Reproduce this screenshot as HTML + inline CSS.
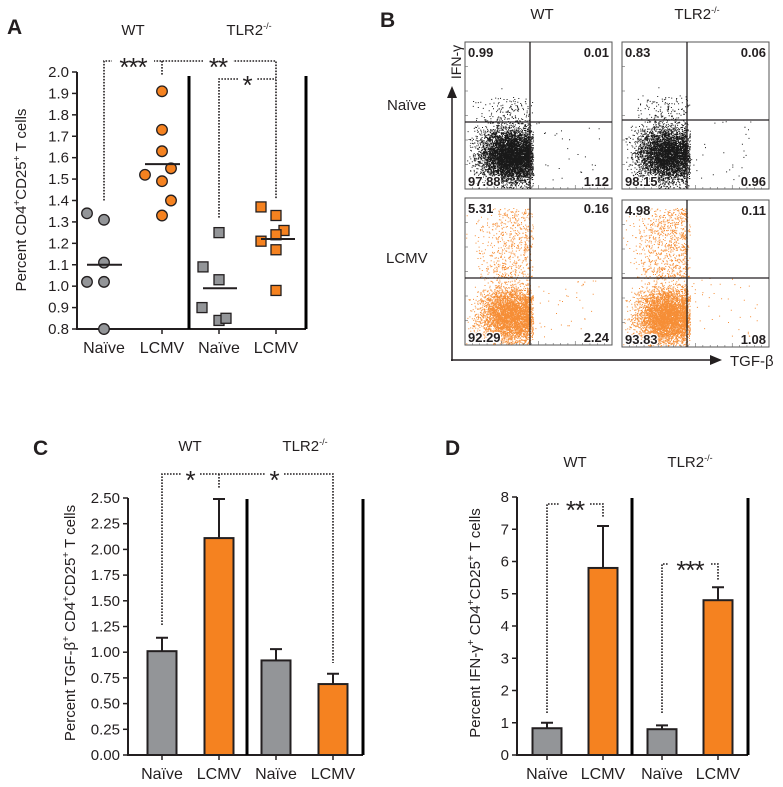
<!DOCTYPE html>
<html><head><meta charset="utf-8">
<style>
html,body{margin:0;padding:0;background:#fff;}
svg{display:block;font-family:"Liberation Sans",Arial,sans-serif;}
</style></head>
<body>
<svg id="fig" width="783" height="787" viewBox="0 0 783 787" xmlns="http://www.w3.org/2000/svg">
<g id="pA"></g>
<g id="pB"></g>
<g id="pC"></g>
<g id="pD"></g>
</svg>
<script>
// ---------- Panel A data ----------
const aCategories = ["Naïve","LCMV","Naïve","LCMV"];
const aWtNaive = [1.34,1.31,1.11,1.02,1.02,0.80];
const aWtNaiveOff = [-17,0,0,-17,0,0];
const aWtLcmv = [1.91,1.73,1.63,1.52,1.55,1.49,1.40,1.33];
const aWtLcmvOff = [0,0,0,-17,9,0,9,0];
const aKoNaive = [1.25,1.09,1.03,0.90,0.84,0.85];
const aKoNaiveOff = [0,-16,0,-17,0,7];
const aKoLcmv = [1.37,1.33,1.26,1.24,1.21,1.17,0.98];
const aKoLcmvOff = [-15,0,8,0,-15,0,0];
const aMedians = [1.10,1.57,0.99,1.22];
const aTicks = ["0.8","0.9","1.0","1.1","1.2","1.3","1.4","1.5","1.6","1.7","1.8","1.9","2.0"];
// ---------- Panel B data ----------
const bQuadrants = [
  ["0.99","0.01","97.88","1.12"],
  ["0.83","0.06","98.15","0.96"],
  ["5.31","0.16","92.29","2.24"],
  ["4.98","0.11","93.83","1.08"]
];
// ---------- Panel C data ----------
const cCategories = ["Naïve","LCMV","Naïve","LCMV"];
const cMeans = [1.01,2.11,0.92,0.69];
const cErrors = [0.13,0.38,0.11,0.10];
const cTicks = ["0.00","0.25","0.50","0.75","1.00","1.25","1.50","1.75","2.00","2.25","2.50"];
// ---------- Panel D data ----------
const dCategories = ["Naïve","LCMV","Naïve","LCMV"];
const dMeans = [0.83,5.8,0.80,4.8];
const dErrors = [0.17,1.3,0.12,0.4];
const dTicks = ["0","1","2","3","4","5","6","7","8"];

const NS="http://www.w3.org/2000/svg";
function el(parent,tag,attrs,text){
  const e=document.createElementNS(NS,tag);
  for(const k in attrs) e.setAttribute(k,attrs[k]);
  if(text!==undefined) e.textContent=text;
  parent.appendChild(e); return e;
}
const GREY="#939598", ORANGE="#f58220";

function header(g,letter,lx,ly,titles){
  const t=el(g,'text',{x:lx,y:ly,'font-size':21,'font-weight':'bold',fill:'#231f20'},letter);
  
  
  titles.forEach(([x,y,isKo])=>{
    const tt=el(g,'text',{x:x,y:y,'font-size':15,'text-anchor':'middle',fill:'#231f20'});
    
    
    if(isKo){ tt.textContent='TLR2'; el(tt,'tspan',{'font-size':9,dy:-6},'-/-'); }
    else tt.textContent='WT';
  });
}
function yAxis(g,x0,yTop,yBot,ticks,ylabel,lx,ly,fs){
  const ax=el(g,'line',{x1:x0,y1:yTop,x2:x0,y2:yBot+1,stroke:'#231f20','stroke-width':2});
  
  
  ticks.forEach((t,i)=>{
    const y=yBot-(yBot-yTop)*i/(ticks.length-1);
    el(g,'line',{x1:x0-5,y1:y,x2:x0,y2:y,stroke:'#231f20','stroke-width':1.5});
    const tl=el(g,'text',{x:x0-8,y:y+5,'font-size':fs,'text-anchor':'end',fill:'#231f20'},t);
    
    
  });
  const lab=el(g,'text',{x:0,y:0,'font-size':15,'text-anchor':'middle',fill:'#231f20',transform:`translate(${lx},${ly}) rotate(-90)`});
  
  
  ylabel.forEach(p=>{ if(p[1]) el(lab,'tspan',{'font-size':10,dy:-6},p[0]); else el(lab,'tspan',{dy:p[2]||0},p[0]); });
}
function xAxis(g,x0,x1,y,xs,cats){
  const ax=el(g,'line',{x1:x0,y1:y,x2:x1,y2:y,stroke:'#231f20','stroke-width':2});
  
  
  xs.forEach((x,i)=>{
    el(g,'line',{x1:x,y1:y,x2:x,y2:y+5,stroke:'#231f20','stroke-width':1.5});
    const t=el(g,'text',{x:x,y:y+24,'font-size':16,'text-anchor':'middle',fill:'#231f20'},cats[i]);
    
    
  });
}
function vline(g,x,y1,y2,name){
  const l=el(g,'line',{x1:x,y1:y1,x2:x,y2:y2,stroke:'#000','stroke-width':3});
  
  
}
function dotted(g,pts){
  const p=el(g,'polyline',{points:pts.map(q=>q.join(',')).join(' '),fill:'none',stroke:'#231f20','stroke-width':1.6,'stroke-dasharray':'1.6,1.4'});
  
  
}
function stars(g,x,y,s){
  el(g,'rect',{x:x-s.length*6-3,y:y-8,width:s.length*12+6,height:16,fill:'#fff'});
  const t=el(g,'text',{x:x,y:y+15,'font-size':26,'text-anchor':'middle',fill:'#231f20','letter-spacing':'-1'},s);
  
  
}

// ================= Panel A =================
(function(){
  const g=document.getElementById('pA');
  header(g,'A',7,34,[[133,35,false],[249,35,true]]);
  const x0=77,yTop=72,yBot=329,vmin=0.8,vmax=2.0;
  const yS=v=>yBot-(v-vmin)/(vmax-vmin)*(yBot-yTop);
  const xs=[104,162,219,276];
  yAxis(g,x0,yTop,yBot,aTicks,[["Percent CD4"],["+",1],["CD25",0,6],["+",1],[" T cells",0,6]],26,200,15);
  xAxis(g,x0,306,yBot,xs,aCategories);
  vline(g,189,76,yBot,'group-divider');
  vline(g,306,76,yBot,'right-border');
  dotted(g,[[xs[0],yS(1.40)],[xs[0],61],[xs[3],61],[xs[3],yS(1.41)]]);
  dotted(g,[[xs[1],61],[xs[1],76]]);
  dotted(g,[[xs[2],yS(1.32)],[xs[2],79],[xs[3],79]]);
  stars(g,133,61,'***'); stars(g,218,61,'**'); stars(g,247,79,'*');
  function pts(vals,offs,xi,col,sq,name){
    vals.forEach((v,i)=>{
      const cx=xs[xi]+offs[i], cy=yS(v);
      let m;
      if(sq) m=el(g,'rect',{x:cx-5,y:cy-5,width:10,height:10,fill:col,stroke:'#231f20','stroke-width':1.3});
      else m=el(g,'circle',{cx:cx,cy:cy,r:5.3,fill:col,stroke:'#231f20','stroke-width':1.3});
      
      
    });
  }
  pts(aWtNaive,aWtNaiveOff,0,GREY,false,'point-wt-naive');
  pts(aWtLcmv,aWtLcmvOff,1,ORANGE,false,'point-wt-lcmv');
  pts(aKoNaive,aKoNaiveOff,2,GREY,true,'point-tlr2-naive');
  pts(aKoLcmv,aKoLcmvOff,3,ORANGE,true,'point-tlr2-lcmv');
  const mOff=[[-17,18],[-17,18],[-16,18],[-15,19]];
  aMedians.forEach((m,i)=>{
    const l=el(g,'line',{x1:xs[i]+mOff[i][0],x2:xs[i]+mOff[i][1],y1:yS(m),y2:yS(m),stroke:'#231f20','stroke-width':2});
    
    
  });
})();

// ================= Panel B =================
(function(){
  const g=document.getElementById('pB');
  const L=el(g,'text',{x:380,y:27,'font-size':21,'font-weight':'bold',fill:'#231f20'},'B');
  
  
  const t1=el(g,'text',{x:542,y:19,'font-size':15,'text-anchor':'middle',fill:'#231f20'},'WT');
  
  
  const t2=el(g,'text',{x:697,y:19,'font-size':15,'text-anchor':'middle',fill:'#231f20'},'TLR2');
  
  
  el(t2,'tspan',{'font-size':9,dy:-6},'-/-');
  const r1=el(g,'text',{x:387,y:110,'font-size':15,fill:'#231f20'},'Naïve');
  
  
  const r2=el(g,'text',{x:386,y:263,'font-size':15,fill:'#231f20'},'LCMV');
  
  
  el(g,'line',{x1:452,y1:361,x2:452,y2:96,stroke:'#231f20','stroke-width':1.5});
  el(g,'polygon',{points:'452,86 447,98 457,98',fill:'#231f20'});
  el(g,'line',{x1:451,y1:360,x2:712,y2:360,stroke:'#231f20','stroke-width':1.5});
  el(g,'polygon',{points:'722,360 710,355 710,365',fill:'#231f20'});
  const ya=el(g,'text',{x:0,y:0,'font-size':14,'text-anchor':'middle',fill:'#231f20',transform:'translate(461,62) rotate(-90)'},'IFN-γ');
  
  
  const xa=el(g,'text',{x:730,y:366,'font-size':15,fill:'#231f20'},'TGF-β');
  
  
  const boxes=[[465,42,530,122,'#000'],[622,42,687,120,'#000'],[465,198,530,278,'#f58220'],[622,200,687,278,'#f58220']];
  let seed=12345;
  const rnd=()=>{seed=(seed*1103515245+12345)&0x7fffffff;return seed/0x7fffffff;};
  const gauss=()=>{let u=rnd()||1e-6,v=rnd();return Math.sqrt(-2*Math.log(u))*Math.cos(2*Math.PI*v);};
  boxes.forEach((b,bi)=>{
    const [x,y,qx,qy,col]=b, w=147, h=147;
    const bg=el(g,'g',{});
    
    
    el(bg,'rect',{x:x,y:y,width:w,height:h,fill:'#fff',stroke:'#555','stroke-width':1});
    const cx=qx-20, cy=qy+(y+h-qy)*0.5;
    let d='';
    const N=bi<2?9000:12000;
    for(let i=0;i<N;i++){
      let px=cx+gauss()*15, py=cy+gauss()*14+(bi>=2?4:0);
      if(bi>=2 && i%10===0){ py=qy-rnd()*70; px=cx+gauss()*17; }
      else if(bi<2 && i%60===0){ py=qy-rnd()*25; px=cx+gauss()*16; }
      if(i%300===0){ px=qx+rnd()*70; py=qy+rnd()*60; }
      if(px>qx+3 && i%300!==0) px=qx-rnd()*6;
      if(px<x+1||px>x+w-1||py<y+1||py>y+h-1) continue;
      d+=`M${px.toFixed(1)} ${py.toFixed(1)}h1v1h-1z`;
    }
    el(bg,'path',{d:d,fill:col,opacity:0.9});
    el(bg,'line',{x1:qx,y1:y,x2:qx,y2:y+h,stroke:'#231f20','stroke-width':1.3});
    el(bg,'line',{x1:x,y1:qy,x2:x+w,y2:qy,stroke:'#231f20','stroke-width':1.3});
    for(let k=1;k<20;k++){ el(bg,'line',{x1:x+k*w/20,y1:y+h,x2:x+k*w/20,y2:y+h-(k%5?2:4),stroke:'#666','stroke-width':0.6}); }
    for(let k=1;k<6;k++){ el(bg,'line',{x1:x,y1:y+k*h/6,x2:x+3,y2:y+k*h/6,stroke:'#666','stroke-width':0.6}); }
    const q=bQuadrants[bi];
    const pos=[[x+3,y+15,'start'],[x+w-3,y+15,'end'],[x+3,y+h-3,'start'],[x+w-3,y+h-3,'end']];
    q.forEach((v,k)=>{
      const t=el(bg,'text',{x:pos[k][0],y:pos[k][1],'font-size':13,'font-weight':'bold','text-anchor':pos[k][2],fill:'#231f20',stroke:'#fff','stroke-width':2.5,'paint-order':'stroke'},v);
      
      
    });
  });
})();

// ================= Bar panels =================
function barPanel(id,letter,lx,ly,titles,x0,yTop,yBot,vmax,ticks,xs,cats,means,errs,divX,rightX,ylab,ylx,yly,brackets,bw){
  const g=document.getElementById(id);
  header(g,letter,lx,ly,titles);
  const yS=v=>yBot-v/vmax*(yBot-yTop);
  yAxis(g,x0,yTop,yBot,ticks,ylab,ylx,yly,15);
  const cols=[GREY,ORANGE,GREY,ORANGE];
  const names=['bar-wt-naive','bar-wt-lcmv','bar-tlr2-naive','bar-tlr2-lcmv'];
  means.forEach((m,i)=>{
    const top=yS(m+errs[i]);
    const e=el(g,'path',{d:`M${xs[i]} ${yS(m)}V${top}M${xs[i]-6} ${top}H${xs[i]+6}`,stroke:'#231f20','stroke-width':2,fill:'none'});
    
    
    const r=el(g,'rect',{x:xs[i]-bw/2,y:yS(m),width:bw,height:yBot-yS(m),fill:cols[i],stroke:'#231f20','stroke-width':2});
    
    
  });
  xAxis(g,x0,rightX,yBot,xs,cats);
  vline(g,divX,yTop+1,yBot,'group-divider');
  vline(g,rightX,yTop+1,yBot,'right-border');
  brackets(g,yS,xs);
}
barPanel('pC','C',33,455,[[190,451,false],[305,451,true]],128,498,755,2.5,cTicks,[162,219,276,333],cCategories,cMeans,cErrors,247,363,
  [["Percent TGF-β"],["+",1],[" CD4",0,6],["+",1],["CD25",0,6],["+",1],[" T cells",0,6]],75,623,
  (g,yS,xs)=>{
    dotted(g,[[xs[0],625],[xs[0],474],[xs[3],474],[xs[3],663]]);
    dotted(g,[[xs[1],474],[xs[1],489]]);
    stars(g,190,474,'*'); stars(g,274,474,'*');
  },29);
barPanel('pD','D',445,455,[[575,467,false],[690,467,true]],517,497,755,8,dTicks,[547,603,662,718],dCategories,dMeans,dErrors,632,748,
  [["Percent IFN-γ"],["+",1],[" CD4",0,6],["+",1],["CD25",0,6],["+",1],[" T cells",0,6]],480,623,
  (g,yS,xs)=>{
    dotted(g,[[xs[0],713],[xs[0],504],[xs[1],504],[xs[1],518]]);
    dotted(g,[[xs[2],713],[xs[2],564],[xs[3],564],[xs[3],580]]);
    stars(g,575,504,'**'); stars(g,690,564,'***');
  },29);
</script>
</body></html>
